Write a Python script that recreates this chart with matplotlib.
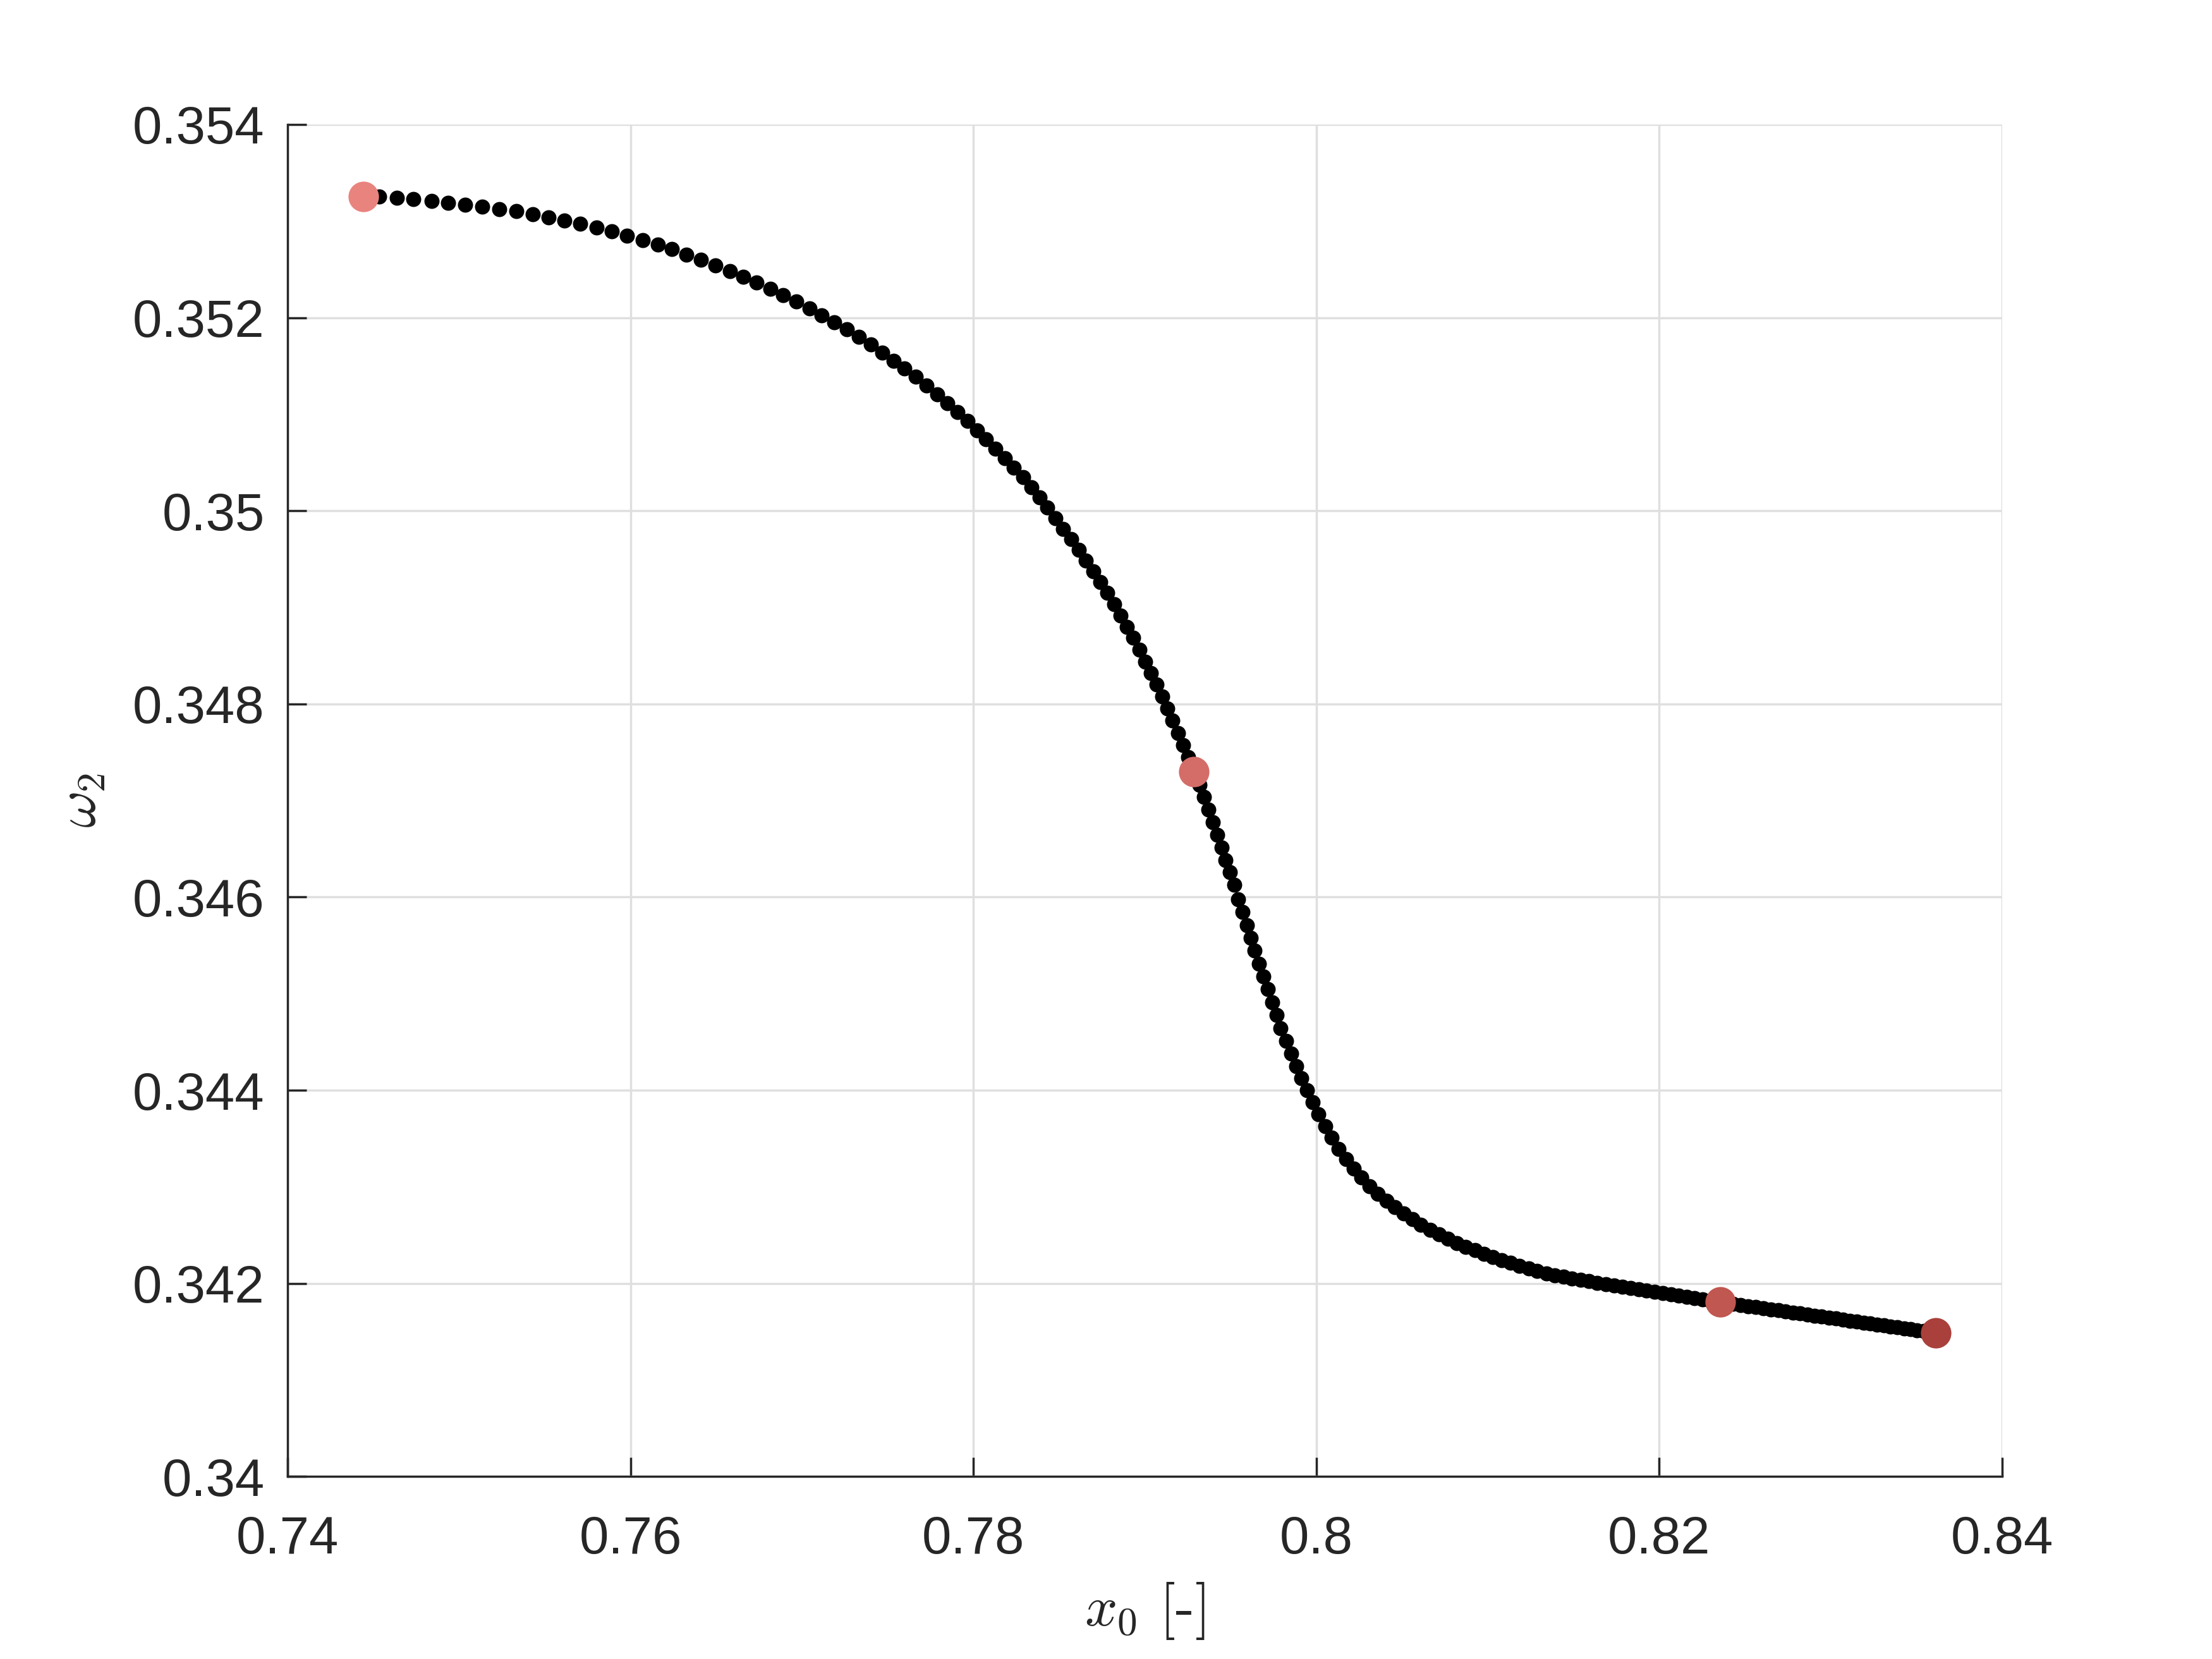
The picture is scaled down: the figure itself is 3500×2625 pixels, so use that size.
import matplotlib
matplotlib.use('Agg')
import matplotlib.pyplot as plt

TEXT = "#262626"
GRID = "#dfdfdf"

plt.rcParams.update({
    'font.family': 'Liberation Sans', 'font.size': 24,
    'mathtext.fontset': 'cm',
    'axes.edgecolor': TEXT, 'axes.linewidth': 1.0,
})

# continuation branch, x0 vs omega_2
x0 = [
    0.74442, 0.74535, 0.74636, 0.74735, 0.74839, 0.74938, 0.75037, 0.75135, 0.75234, 0.75333,
    0.75429, 0.75522, 0.75615, 0.75708, 0.75801, 0.75891, 0.75981, 0.76071, 0.76159, 0.76243,
    0.76328, 0.76412, 0.76497, 0.76579, 0.76658, 0.76736, 0.76815, 0.76892, 0.76968, 0.77044,
    0.77117, 0.77190, 0.77261, 0.77331, 0.77402, 0.77469, 0.77534, 0.77599, 0.77664, 0.77729,
    0.77791, 0.77850, 0.77909, 0.77965, 0.78022, 0.78075, 0.78129, 0.78183, 0.78236, 0.78290,
    0.78340, 0.78388, 0.78431, 0.78478, 0.78525, 0.78571, 0.78616, 0.78658, 0.78700, 0.78741,
    0.78782, 0.78821, 0.78859, 0.78895, 0.78933, 0.78968, 0.79002, 0.79035, 0.79068, 0.79101,
    0.79130, 0.79163, 0.79194, 0.79224, 0.79254, 0.79287, 0.79319, 0.79344, 0.79372, 0.79398,
    0.79423, 0.79448, 0.79472, 0.79497, 0.79522, 0.79546, 0.79570, 0.79595, 0.79619, 0.79641,
    0.79668, 0.79693, 0.79717, 0.79744, 0.79769, 0.79793, 0.79824, 0.79854, 0.79885, 0.79915,
    0.79946, 0.79979, 0.80014, 0.80053, 0.80091, 0.80131, 0.80174, 0.80219, 0.80264, 0.80311,
    0.80361, 0.80410, 0.80459, 0.80511, 0.80561, 0.80611, 0.80664, 0.80717, 0.80769, 0.80821,
    0.80873, 0.80926, 0.80978, 0.81030, 0.81082, 0.81134, 0.81186, 0.81239, 0.81290, 0.81343,
    0.81393, 0.81443, 0.81493, 0.81542, 0.81591, 0.81640, 0.81689, 0.81737, 0.81785, 0.81833,
    0.81881, 0.81928, 0.81975, 0.82022, 0.82069, 0.82115, 0.82161, 0.82207, 0.82253, 0.82298,
    0.82343, 0.82388, 0.82433, 0.82477, 0.82521, 0.82565, 0.82609, 0.82652, 0.82695, 0.82738,
    0.82781, 0.82823, 0.82865, 0.82907, 0.82949, 0.82990, 0.83031, 0.83072, 0.83113, 0.83153,
    0.83193, 0.83233, 0.83273, 0.83312, 0.83351, 0.83390, 0.83429, 0.83467, 0.83505, 0.83543,
    0.83580, 0.83613,
]
omega2 = [
    0.353256, 0.353250, 0.353238, 0.353224, 0.353206, 0.353189, 0.353171, 0.353151, 0.353125, 0.353101,
    0.353072, 0.353040, 0.353005, 0.352970, 0.352935, 0.352894, 0.352850, 0.352803, 0.352757, 0.352707,
    0.352652, 0.352596, 0.352541, 0.352482, 0.352421, 0.352360, 0.352296, 0.352231, 0.352167, 0.352094,
    0.352024, 0.351951, 0.351878, 0.351799, 0.351721, 0.351639, 0.351554, 0.351470, 0.351385, 0.351294,
    0.351207, 0.351113, 0.351020, 0.350927, 0.350833, 0.350740, 0.350644, 0.350544, 0.350448, 0.350346,
    0.350244, 0.350141, 0.350031, 0.349924, 0.349814, 0.349707, 0.349597, 0.349484, 0.349374, 0.349264,
    0.349150, 0.349034, 0.348917, 0.348800, 0.348683, 0.348563, 0.348440, 0.348320, 0.348200, 0.348076,
    0.347950, 0.347829, 0.347699, 0.347576, 0.347449, 0.347305, 0.347162, 0.347036, 0.346905, 0.346772,
    0.346645, 0.346515, 0.346382, 0.346255, 0.346128, 0.345978, 0.345845, 0.345711, 0.345578, 0.345444,
    0.345311, 0.345178, 0.345044, 0.344911, 0.344777, 0.344644, 0.344510, 0.344380, 0.344250, 0.344123,
    0.343997, 0.343873, 0.343753, 0.343628, 0.343508, 0.343393, 0.343288, 0.343186, 0.343099, 0.343005,
    0.342924, 0.342855, 0.342787, 0.342722, 0.342663, 0.342606, 0.342554, 0.342506, 0.342460, 0.342419,
    0.342380, 0.342343, 0.342308, 0.342275, 0.342242, 0.342212, 0.342183, 0.342155, 0.342129, 0.342103,
    0.342083, 0.342067, 0.342052, 0.342037, 0.342022, 0.342007, 0.341993, 0.341979, 0.341965, 0.341951,
    0.341937, 0.341924, 0.341911, 0.341898, 0.341885, 0.341872, 0.341860, 0.341847, 0.341835, 0.341823,
    0.341811, 0.341799, 0.341787, 0.341776, 0.341764, 0.341753, 0.341742, 0.341731, 0.341720, 0.341709,
    0.341698, 0.341687, 0.341677, 0.341666, 0.341656, 0.341645, 0.341635, 0.341625, 0.341614, 0.341604,
    0.341594, 0.341584, 0.341574, 0.341564, 0.341554, 0.341544, 0.341534, 0.341524, 0.341514, 0.341504,
    0.341495, 0.341486,
]

# highlighted solutions
hl_x = [0.74442, 0.79287, 0.82359, 0.83613]
hl_y = [0.353256, 0.347300, 0.341806, 0.341486]
hl_colors = ['#e9837e', '#d46c68', '#c05750', '#a9403b']

xticks = [0.74, 0.76, 0.78, 0.80, 0.82, 0.84]
xticklabels = ['0.74', '0.76', '0.78', '0.8', '0.82', '0.84']
yticks = [0.340, 0.342, 0.344, 0.346, 0.348, 0.350, 0.352, 0.354]
yticklabels = ['0.34', '0.342', '0.344', '0.346', '0.348', '0.35', '0.352', '0.354']

fig = plt.figure(figsize=(14, 10.5), dpi=250)
ax = fig.add_axes([0.13, 0.11, 0.775, 0.815])

ax.plot(x0, omega2, linestyle='none', marker='o', ms=6.9, mew=0, color='black', zorder=3)
for xh, yh, c in zip(hl_x, hl_y, hl_colors):
    ax.plot(xh, yh, linestyle='none', marker='o', ms=13.9, mew=0, color=c, zorder=4)

ax.set_xlim(0.74, 0.84)
ax.set_ylim(0.34, 0.354)
ax.set_xticks(xticks)
ax.set_xticklabels(xticklabels)
ax.set_yticks(yticks)
ax.set_yticklabels(yticklabels)

ax.grid(True, color=GRID, linewidth=1.0)
ax.set_axisbelow(True)
for s in ['top', 'right']:
    ax.spines[s].set_visible(False)
ax.tick_params(axis='both', direction='in', length=8.6, width=1.0, colors=TEXT,
               labelsize=24)
ax.tick_params(axis='x', pad=17.5)
ax.tick_params(axis='y', pad=10.5)

ax.set_xlabel(r'$x_0$ [-]', fontsize=26, color=TEXT, family='cmr10')
ax.set_ylabel(r'$\omega_2$', fontsize=26, color=TEXT)
ax.xaxis.set_label_coords(0.5, -0.077)
ax.yaxis.set_label_coords(-0.105, 0.5)

plt.savefig('out.png', dpi=250)
plt.close()
